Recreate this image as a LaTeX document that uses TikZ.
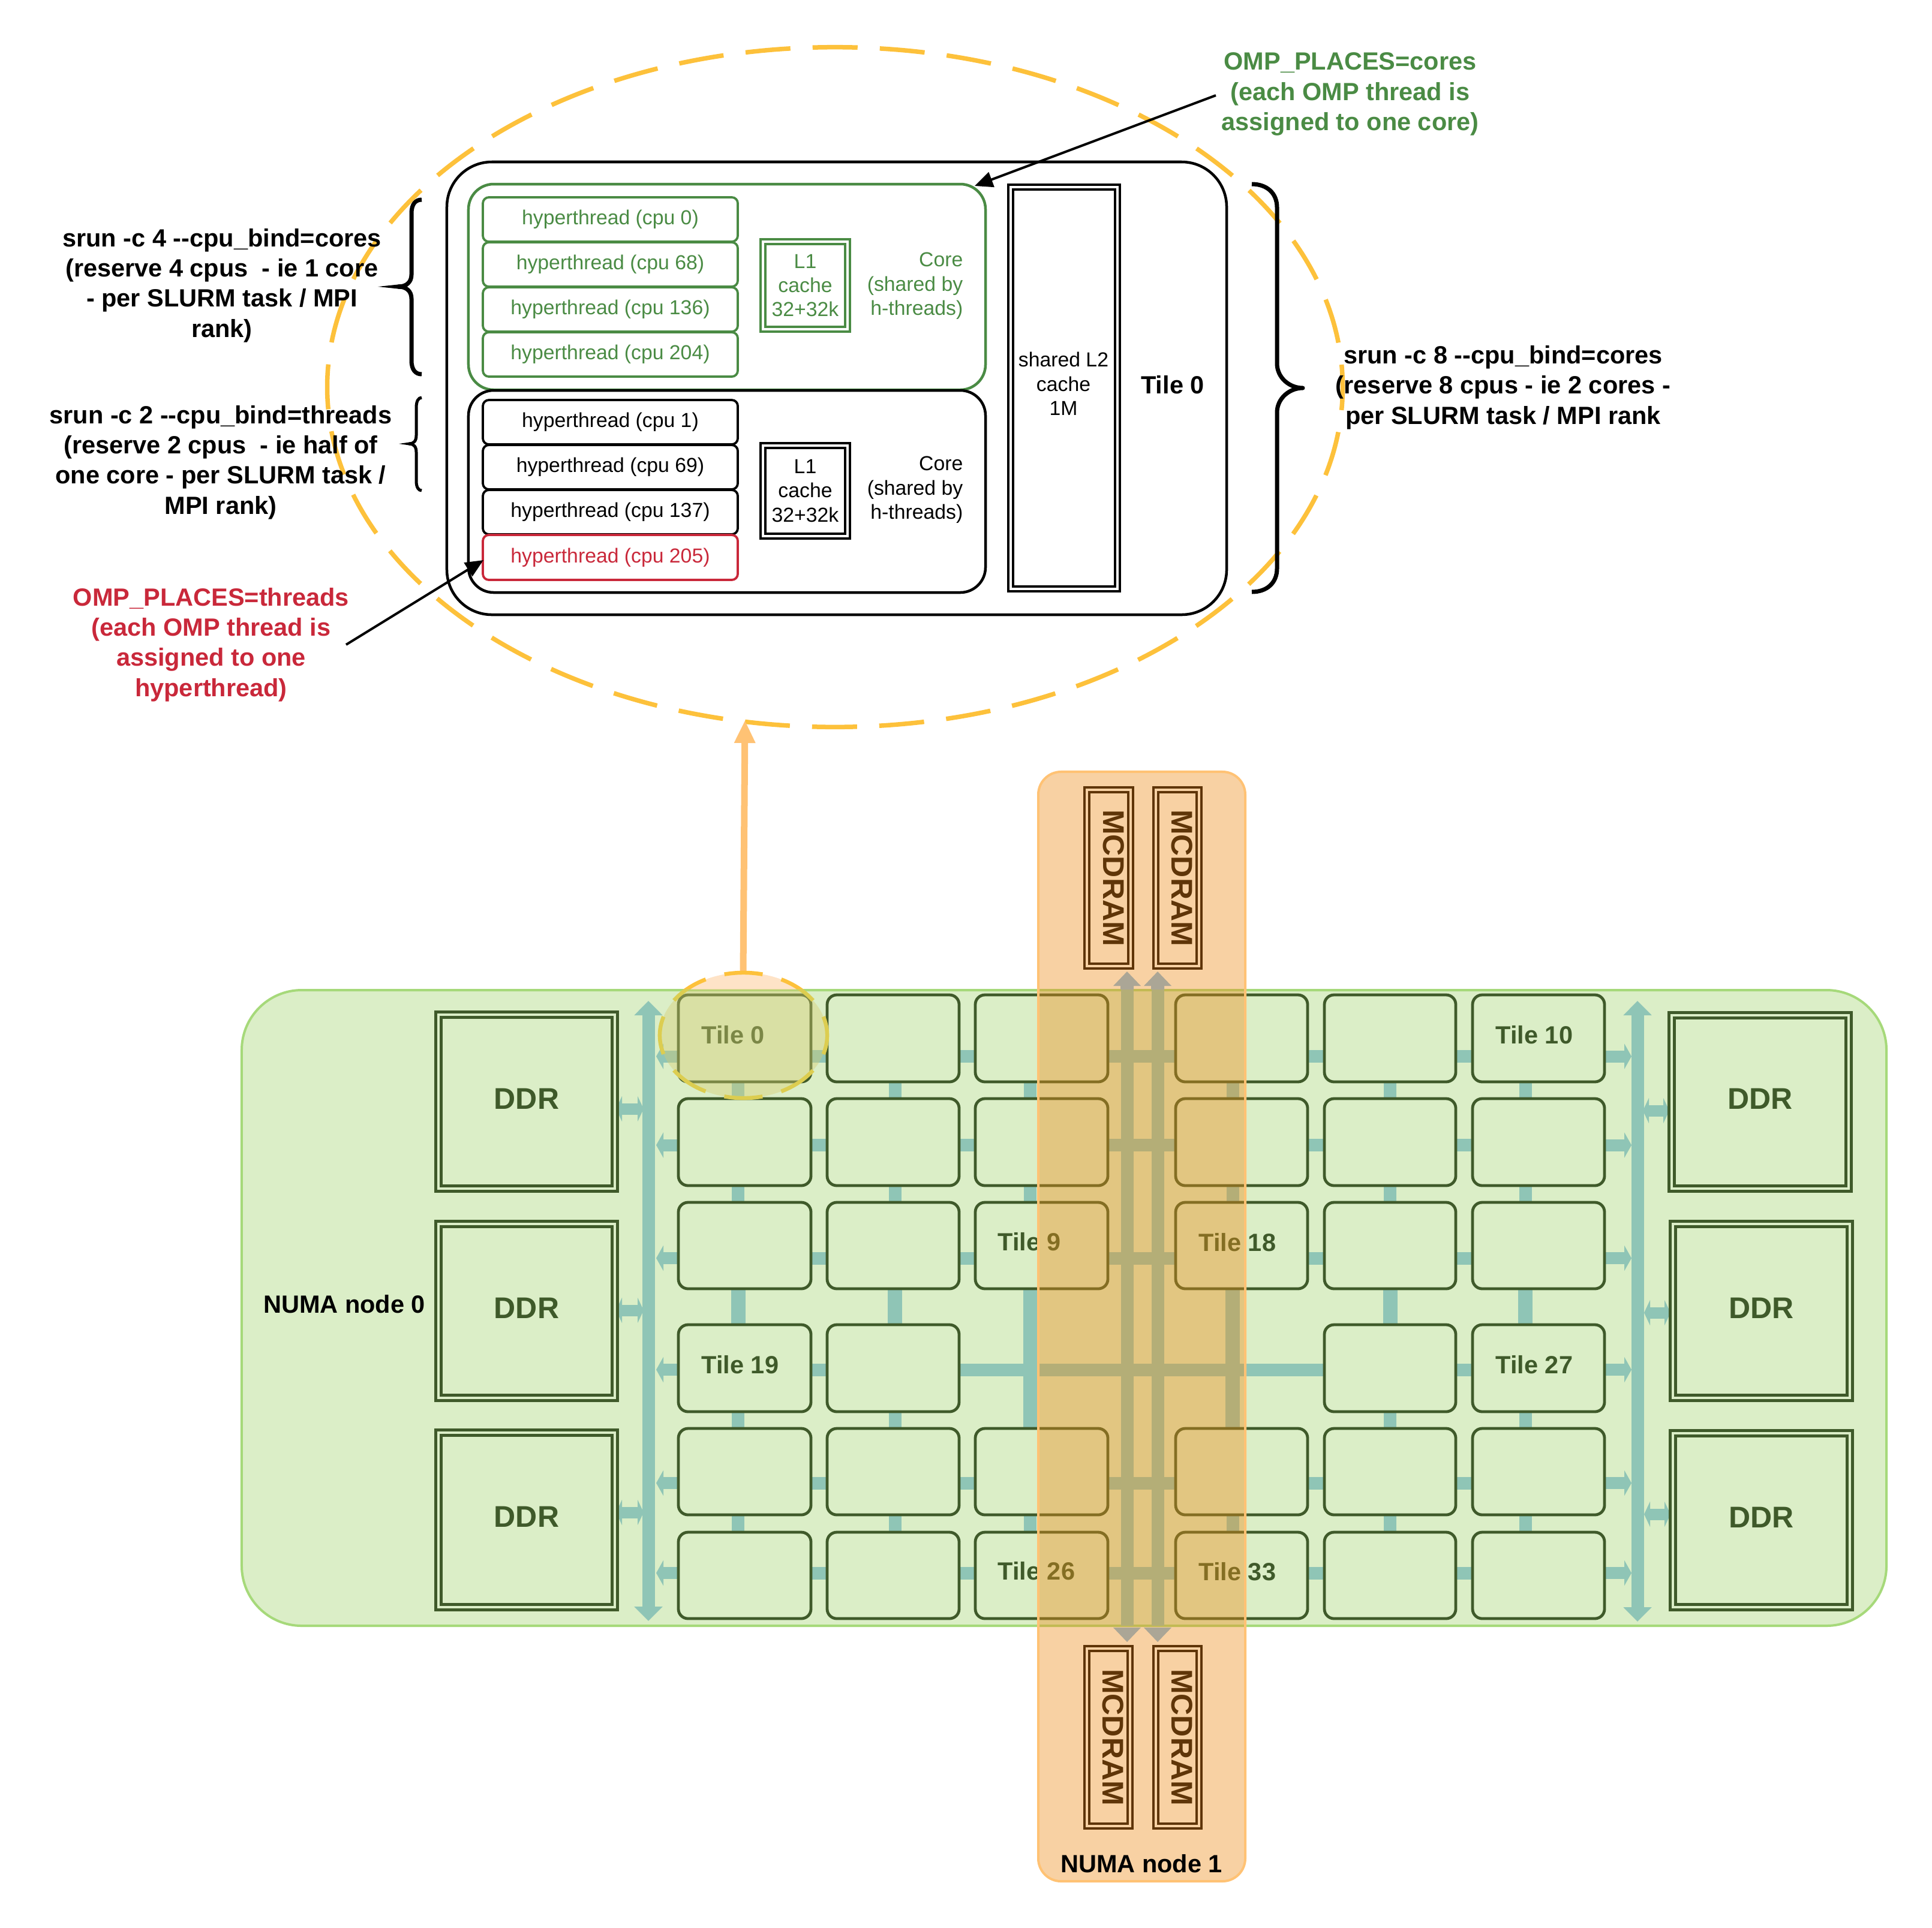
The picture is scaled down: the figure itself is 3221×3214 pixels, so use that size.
\documentclass[tikz,border=0pt]{standalone}
\usepackage{fontspec}
\setmainfont{Liberation Sans}
\usetikzlibrary{arrows.meta,calc,shapes.geometric}
\definecolor{gfill}{HTML}{DBEEC7}
\definecolor{gedge}{HTML}{A6D97A}
\definecolor{tedge}{HTML}{3F5A2A}
\definecolor{teal}{HTML}{8FC5B6}
\definecolor{ofill}{HTML}{ED8C19}
\definecolor{oedge}{HTML}{FFC274}
\definecolor{yell}{HTML}{FDC13B}
\definecolor{brown}{HTML}{5F3508}
\definecolor{core}{HTML}{4A8B44}
\definecolor{redc}{HTML}{C9283A}
\definecolor{greyh}{HTML}{ABA696}
\definecolor{tefill}{HTML}{FEE3C7}
\definecolor{tefilllow}{HTML}{D7CB70}
\definecolor{tedash}{HTML}{DCCD50}
\pgfdeclarelayer{back}\pgfdeclarelayer{conn}\pgfdeclarelayer{over}\pgfdeclarelayer{top}
\pgfsetlayers{back,conn,main,over,top}
\newcommand\fsn{\fontsize{9.6}{11.5}\selectfont}
\newcommand\fsb{\fontsize{11.8}{14.35}\selectfont\bfseries}
\newcommand\fsl{\fontsize{14.2}{16}\selectfont\bfseries}
\newcommand\rbox[7]{\pgfmathsetmacro\rw{(#4-#2)*0.01}\pgfmathsetmacro\rh{(#5-#3)*0.01}%
  \node[#6,minimum width=\rw cm,minimum height=\rh cm] (#1) at ({(#2+#4)/2},{(#3+#5)/2}) {#7};}
\tikzset{
  base/.style={inner sep=0pt,outer sep=0pt,rectangle},
  tilebox/.style={base,draw=tedge,fill=gfill,line width=0.048cm,rounded corners=0.16cm},
  ddrbox/.style={base,draw=tedge,double=gfill,line width=0.048cm,double distance=0.04cm,text=tedge,font=\fsl,text depth=0.1cm},
  mcbox/.style={base,draw=brown,double=ofill!40!white,line width=0.04cm,double distance=0.04cm},
  mctext/.style={inner sep=0pt,outer sep=0pt,rotate=-90,text=brown,font=\fsl},
  tilelabel/.style={inner sep=0pt,anchor=west,text=tedge,font=\fsb},
  boldlabel/.style={inner sep=0pt,align=center,font=\fsb},
  thin label/.style={inner sep=0pt,align=center,font=\fsn},
  htbox/.style={base,draw=#1,text=#1,line width=0.038cm,rounded corners=0.1cm,font=\fsn},
  corebox/.style={base,draw=#1,line width=0.045cm,rounded corners=0.42cm},
  lonebox/.style={base,draw=#1,text=#1,double=white,line width=0.04cm,double distance=0.035cm,align=center,font=\fsn},
  link/.style={teal,line width=0.21cm},
  thick link/.style={teal,line width=0.24cm},
  sidearrow/.style={teal,line width=0.2cm,-{Triangle[width=0.42cm,length=0.12cm]}},
  busarrow/.style={teal,line width=0.21cm,{Triangle[width=0.46cm,length=0.24cm]}-{Triangle[width=0.46cm,length=0.24cm]}},
  ddrarrow/.style={teal,line width=0.19cm,{Triangle[width=0.42cm,length=0.1cm]}-{Triangle[width=0.42cm,length=0.1cm]}},
  blackarrow/.style={black,line width=0.04cm,-{Triangle[width=0.26cm,length=0.3cm]}},
  brace/.style={black,line join=round},
}
\begin{document}
\begin{tikzpicture}[x=0.01cm,y=-0.01cm]
\useasboundingbox (0,0) rectangle (3221,3214);

% ---------- big dashed ellipse
\begin{pgfonlayer}{back}
\node[ellipse,inner sep=0pt,outer sep=0pt,minimum width=16.92cm,minimum height=11.33cm,draw=yell,line width=0.075cm,
  dash pattern=on 0.75cm off 0.3702cm,dash phase=0.375cm] (bigE) at (1392,645.5) {};
\end{pgfonlayer}

% ---------- tile 0 detail
\rbox{tileD}{745}{270}{2045}{1025}{base,draw=black,line width=0.045cm,rounded corners=0.75cm}{}
\rbox{coreG}{781}{307}{1643}{650}{corebox=core}{}
\rbox{coreK}{781}{651}{1643}{988}{corebox=black}{}
\rbox{ht0}{805}{329}{1230}{403}{htbox=core}{hyperthread (cpu 0)}
\rbox{ht68}{805}{404}{1230}{478}{htbox=core}{hyperthread (cpu 68)}
\rbox{ht136}{805}{479}{1230}{553}{htbox=core}{hyperthread (cpu 136)}
\rbox{ht204}{805}{554}{1230}{628}{htbox=core}{hyperthread (cpu 204)}
\rbox{ht1}{805}{667}{1230}{741}{htbox=black}{hyperthread (cpu 1)}
\rbox{ht69}{805}{742}{1230}{816}{htbox=black}{hyperthread (cpu 69)}
\rbox{ht137}{805}{817}{1230}{891}{htbox=black}{hyperthread (cpu 137)}
\rbox{ht205}{805}{892}{1230}{967}{htbox=redc}{\raisebox{0.03cm}{hyperthread (cpu 205)}}
\rbox{l1g}{1272}{403}{1413}{549}{lonebox=core}{L1\\cache\\32+32k}
\rbox{l1k}{1272}{743}{1413}{894}{lonebox=black}{L1\\cache\\32+32k}
\node[inner sep=0pt,align=right,anchor=east,text=core,font=\fsn] (coreGt) at (1606,477) {Core\\(shared by\\h-threads)};
\node[inner sep=0pt,align=right,anchor=east,font=\fsn] (coreKt) at (1606,817) {Core\\(shared by\\h-threads)};
\rbox{l2}{1685}{312}{1863}{982}{lonebox=black}{}
\node[thin label] (l2t) at (1773,640) {shared L2\\cache\\1M};
\node[boldlabel] (tile0t) at (1955,642) {Tile 0};

% ---------- labels top
\node[boldlabel,text=core] (ompc) at (2251,157) {OMP\_PLACES=cores\\(each OMP thread is\\assigned to one core)};
\node[boldlabel,text=redc] (ompt) at (352,1075) {OMP\_PLACES=threads\\(each OMP thread is\\assigned to one\\hyperthread)};
\node[boldlabel] (srun4) at (370,476) {srun -c 4 {-}{-}cpu\_bind=cores\\(reserve 4 cpus\ \ - ie 1 core\\- per SLURM task / MPI\\rank)};
\node[boldlabel] (srun2) at (368,771) {srun -c 2 {-}{-}cpu\_bind=threads\\(reserve 2 cpus\ \ - ie half of\\one core - per SLURM task /\\MPI rank)};
\node[boldlabel] (srun8) at (2506,646) {srun -c 8 {-}{-}cpu\_bind=cores\\(reserve 8 cpus - ie 2 cores -\\per SLURM task / MPI rank};

\coordinate (ocs) at (2027,159);
\coordinate (oce) at (1625,310);
\draw[blackarrow] (ocs) -- (oce);
\coordinate (ots) at (577,1075);
\coordinate (ote) at (806,934);
\draw[blackarrow] (ots) -- (ote);

% ---------- braces
\draw[brace,line width=0.07cm] (703,333) .. controls (693,333) and (686,340) .. (686,356) -- (686,458)
  .. controls (686,470) and (678,478) .. (664,478) .. controls (678,478) and (686,486) .. (686,498) -- (686,601)
  .. controls (686,617) and (693,624) .. (703,624);
\fill[black] (630,478) -- (668,474) -- (668,482) -- cycle;
\draw[brace,line width=0.05cm] (703,663) .. controls (698,663) and (694,668) .. (694,680) -- (694,726)
  .. controls (694,735) and (690,740) .. (682,740) .. controls (690,740) and (694,745) .. (694,754) -- (694,802)
  .. controls (694,813) and (698,818) .. (703,818);
\fill[black] (665,740) -- (686,737) -- (686,743) -- cycle;
\draw[brace,line width=0.07cm] (2087,307) .. controls (2112,307) and (2129,322) .. (2129,346) -- (2129,606)
  .. controls (2129,630) and (2150,647) .. (2172,647) .. controls (2150,647) and (2129,664) .. (2129,688) -- (2129,948)
  .. controls (2129,972) and (2112,987) .. (2087,987);

% ---------- green NUMA node
\begin{pgfonlayer}{back}
\rbox{numa0}{403}{1651}{3145}{2711}{base,draw=gedge,fill=gfill,line width=0.04cm,rounded corners=1cm}{}
\end{pgfonlayer}
\node[boldlabel] (numa0t) at (574,2175) {NUMA node 0};

% ---------- tiles
\foreach \c/\xa/\xb in {1/1131/1352,2/1379/1599,3/1626/1847,4/1960/2180,5/2208/2427,6/2455/2675}{
 \foreach \r/\ya/\yb in {1/1659/1804,2/1832/1977,3/2005/2149,4/2209/2354,5/2382/2526,6/2555/2699}{
  \ifnum\r=4 \ifnum\c=3 \else\ifnum\c=4 \else
    \rbox{t\r\c}{\xa}{\ya}{\xb}{\yb}{tilebox}{}
  \fi\fi\else
    \rbox{t\r\c}{\xa}{\ya}{\xb}{\yb}{tilebox}{}
  \fi
 }
}
\node[tilelabel] (lt0) at (1169,1726) {Tile 0};
\node[tilelabel] (lt19) at (1169,2276) {Tile 19};
\node[tilelabel] (lt9) at (1663,2071) {Tile 9};
\node[tilelabel] (lt26) at (1663,2620) {Tile 26};
\node[tilelabel] (lt10) at (2493,1726) {Tile 10};
\node[tilelabel] (lt27) at (2493,2276) {Tile 27};
\node[tilelabel] (lt18) at (1998,2072) {Tile 18};
\node[tilelabel] (lt33) at (1998,2621) {Tile 33};

% ---------- DDR
\rbox{dl1}{731}{1692}{1025}{1982}{ddrbox}{DDR}
\rbox{dl2}{731}{2041}{1025}{2331}{ddrbox}{DDR}
\rbox{dl3}{731}{2389}{1025}{2680}{ddrbox}{DDR}
\rbox{dr1}{2787}{1693}{3082}{1982}{ddrbox}{DDR}
\rbox{dr2}{2789}{2041}{3084}{2331}{ddrbox}{DDR}
\rbox{dr3}{2789}{2390}{3084}{2680}{ddrbox}{DDR}

% ---------- connectors
\begin{pgfonlayer}{conn}
\foreach \r/\d in {1/30,2/5,3/21,5/19,6/-4}{
  \foreach \a/\b in {1/2,2/3,3/4,4/5,5/6}{
    \draw[link] ($(t\r\a.east)+(0,\d)$) -- ($(t\r\b.west)+(0,\d)$);
  }
}
\foreach \a/\b in {1/2,2/5,5/6}{
  \draw[link] ($(t4\a.east)+(0,2.5)$) -- ($(t4\b.west)+(0,2.5)$);
}
\foreach \c/\d in {1/-11,2/3,5/0,6/-22}{
  \foreach \a/\b in {1/2,2/3,4/5,5/6}{
    \draw[link] ($(t\a\c.south)+(\d,0)$) -- ($(t\b\c.north)+(\d,0)$);
  }
  \draw[thick link] ($(t3\c.south)+(\d,0)$) -- ($(t4\c.north)+(\d,0)$);
}
\foreach \c/\d in {3/-19,4/-15}{
  \foreach \a/\b in {1/2,2/3,5/6}{
    \draw[link] ($(t\a\c.south)+(\d,0)$) -- ($(t\b\c.north)+(\d,0)$);
  }
  \draw[thick link] ($(t3\c.south)+(\d,0)$) -- ($(t5\c.north)+(\d,0)$);
}
\coordinate (blt) at (1081,1669);
\coordinate (blb) at (1081,2703);
\coordinate (brt) at (2730,1669);
\coordinate (brb) at (2730,2704);
\draw[busarrow] (blt) -- (blb);
\draw[busarrow] (brt) -- (brb);
\foreach \r/\d in {1/30,2/5,3/21,4/2.5,5/19,6/-4}{
  \draw[sidearrow] ($(t\r1.west)+(0,\d)$) -- ++(-37,0);
  \draw[sidearrow] ($(t\r6.east)+(0,\d)$) -- ++(45,0);
}
\foreach \n/\d in {1/12,2/-1,3/-12.5}{
  \draw[ddrarrow] ($(dl\n.east)+(2,\d)$) -- ++(46,0);
}
\foreach \n/\d in {1/14.5,2/3,3/-10}{
  \draw[ddrarrow] ($(dr\n.west)+(-4,\d)$) -- ++(-44,0);
}
\coordinate (ma1) at (1879,1650);
\coordinate (mb1) at (1879,2711);
\coordinate (ma2) at (1930,1650);
\coordinate (mb2) at (1930,2711);
\draw[link] (ma1) -- (mb1);
\draw[link] (ma2) -- (mb2);
\end{pgfonlayer}

% ---------- NUMA node 1 overlay
\begin{pgfonlayer}{over}
\rbox{numa1}{1731}{1287}{2076}{3137}{base,draw=oedge,fill=ofill,fill opacity=0.4,line width=0.04cm,rounded corners=0.38cm}{}
% grey arrow ends over the orange
\fill[greyh] (1868,1650) -- (1868,1644) -- (1856,1644) -- (1879,1620) -- (1902,1644) -- (1890,1644) -- (1890,1650) -- cycle;
\fill[greyh] (1919,1650) -- (1919,1644) -- (1907,1644) -- (1930,1620) -- (1953,1644) -- (1941,1644) -- (1941,1650) -- cycle;
\fill[greyh] (1856,2714) -- (1879,2738) -- (1902,2714) -- cycle;
\fill[greyh] (1907,2714) -- (1930,2738) -- (1953,2714) -- cycle;
% link up to the big ellipse
\coordinate (upa) at (1239,1622);
\coordinate (upb) at (1242,1201);
\draw[oedge,line width=0.11cm,-{Triangle[width=0.33cm,length=0.38cm]}] (upa) -- (upb);
% small ellipse round tile 0
\begin{scope}
\clip (1000,1500) rectangle (1500,1649);
\node[ellipse,inner sep=0pt,outer sep=0pt,minimum width=2.79cm,minimum height=2.09cm,draw=yell,fill=tefill,line width=0.065cm,
  dash pattern=on 0.64cm off 0.323cm,dash phase=0.32cm] (te) at (1239.5,1726.5) {};
\end{scope}
\begin{scope}
\clip (1000,1649) rectangle (1500,1900);
\node[ellipse,inner sep=0pt,outer sep=0pt,minimum width=2.79cm,minimum height=2.09cm,fill=tefilllow,fill opacity=0.4] (teb) at (1239.5,1726.5) {};
\node[ellipse,inner sep=0pt,outer sep=0pt,minimum width=2.79cm,minimum height=2.09cm,draw=tedash,line width=0.065cm,
  dash pattern=on 0.64cm off 0.323cm,dash phase=0.32cm] (tec) at (1239.5,1726.5) {};
\end{scope}
\end{pgfonlayer}

% ---------- MCDRAM on top
\begin{pgfonlayer}{top}
\rbox{m1}{1812}{1317}{1885}{1611}{mcbox}{}
\rbox{m2}{1927}{1317}{1999}{1611}{mcbox}{}
\rbox{m3}{1812}{2749}{1884}{3045}{mcbox}{}
\rbox{m4}{1927}{2749}{1999}{3045}{mcbox}{}
\foreach \m in {1,2,3,4}{
  \node[mctext] (mt\m) at ($(m\m.center)+(8,0)$) {MCDRAM};
}
\node[boldlabel] (numa1t) at (1903,3108) {NUMA node 1};
\end{pgfonlayer}
\end{tikzpicture}
\end{document}
